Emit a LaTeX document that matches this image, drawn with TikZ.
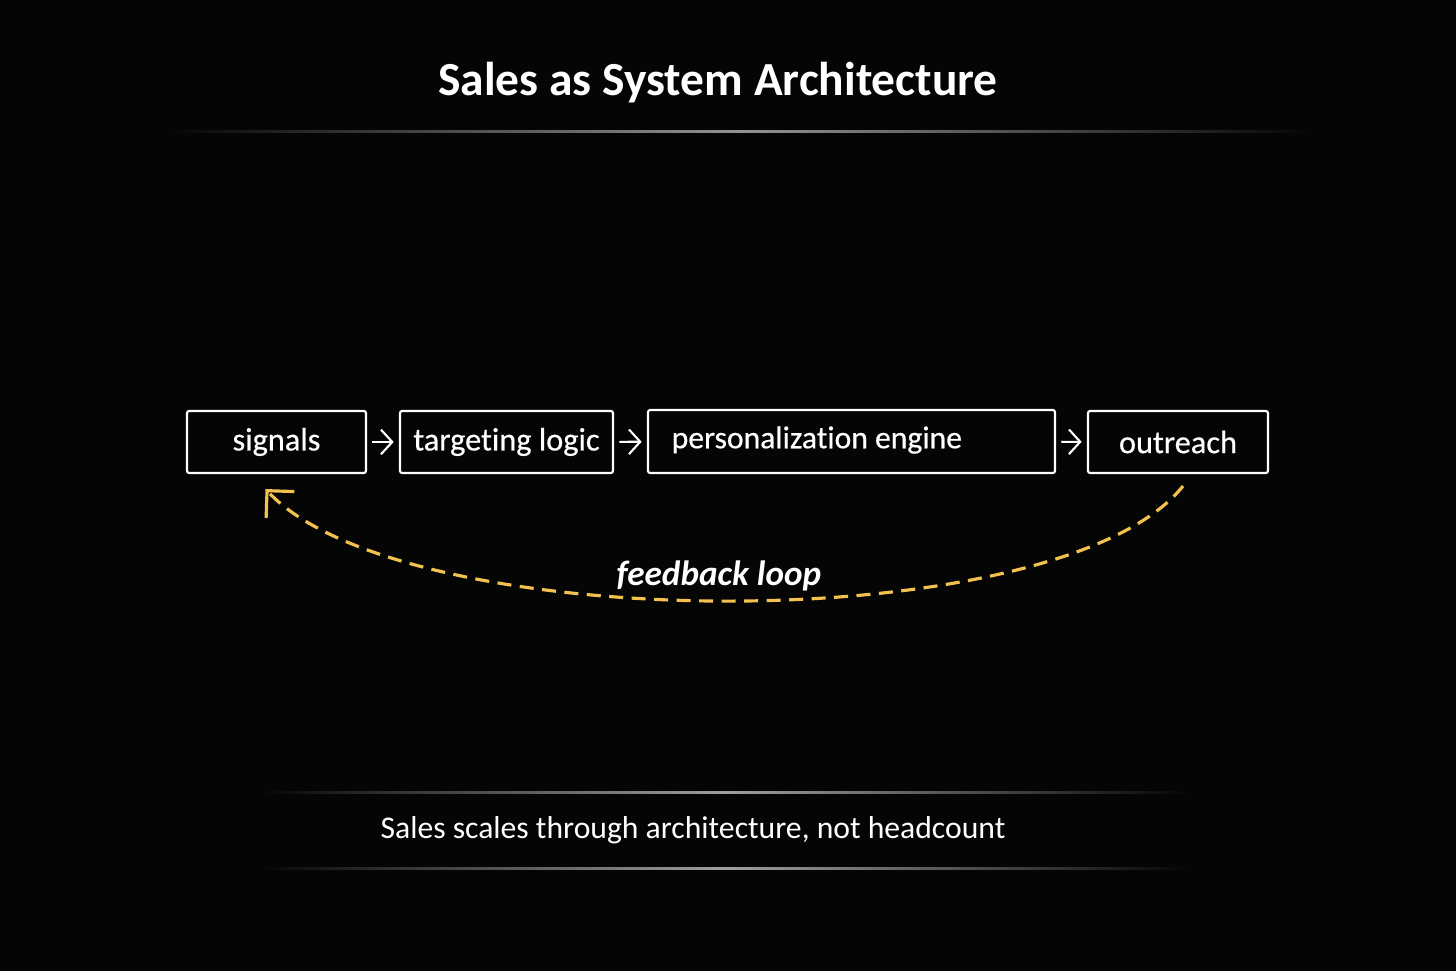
\documentclass[tikz,border=0pt]{standalone}
\usepackage{fontspec}
\setmainfont{Carlito}[Ligatures=NoCommon]
\newfontfamily\labelfont{Carlito}[Ligatures=NoCommon,FakeBold=0.5]
\usetikzlibrary{arrows.meta}
\definecolor{bgcol}{HTML}{050505}
\definecolor{loopcol}{HTML}{F2C14E}
\begin{document}
\begin{tikzpicture}[x=0.01cm,y=-0.01cm,
  stage/.style={draw=white,line width=0.6pt,rounded corners=0.6pt,text=white,
    minimum height=62*0.01cm,inner sep=0pt,font=\labelfont\fontsize{9.2}{11}\selectfont},
  flow/.style={white,line width=0.6pt,-{Straight Barb[length=3.2pt,width=7pt]},shorten <=1.5pt,shorten >=1.5pt},
  fb/.style={loopcol,line width=0.9pt,dash pattern=on 4pt off 2.4pt,-{Straight Barb[length=5.5pt,width=11pt]}}]
\useasboundingbox (0,0) rectangle (1456,971);
\fill[bgcol] (0,0) rectangle (1456,971);
% title and rules
\node[text=white,font=\fontsize{13.5}{16}\bfseries] (title) at (718,83) {Sales as System Architecture};
\shade[left color=bgcol,right color=bgcol,middle color=gray!85] (165,131) rectangle (1315,133);
\shade[left color=bgcol,right color=bgcol,middle color=gray!75] (260,792) rectangle (1190,794);
\shade[left color=bgcol,right color=bgcol,middle color=gray!75] (260,868) rectangle (1190,870);
% pipeline
\node[stage,minimum width=179*0.01cm] (signals) at (276.5,442) {signals};
\node[stage,minimum width=213*0.01cm] (targeting) at (506.5,442) {targeting logic};
\node[stage,minimum width=407*0.01cm,minimum height=63*0.01cm] (engine) at (851.5,441.5) {};
\node[text=white,anchor=west,inner sep=0pt,font=\labelfont\fontsize{9}{11}\selectfont] (enginetext) at (671,440) {personalization engine};
\node[stage,minimum width=180*0.01cm] (outreach) at (1178,442) {outreach};
\draw[flow] (signals) -- (targeting);
\draw[flow] (targeting) -- (engine);
\draw[flow] (engine) -- (outreach);
% feedback
\draw[fb] ([xshift=5*0.01cm,yshift=-12*0.01cm]outreach.south) .. controls (1060,640) and (404,637) .. ([xshift=-11*0.01cm,yshift=-15*0.01cm]signals.south);
\node[text=white,font=\fontsize{10}{12}\bfseries\itshape] (fblabel) at (719,576) {feedback loop};
\node[text=white,font=\fontsize{9}{11}\selectfont] (motto) at (693,830) {Sales scales through architecture, not headcount};
\end{tikzpicture}
\end{document}
